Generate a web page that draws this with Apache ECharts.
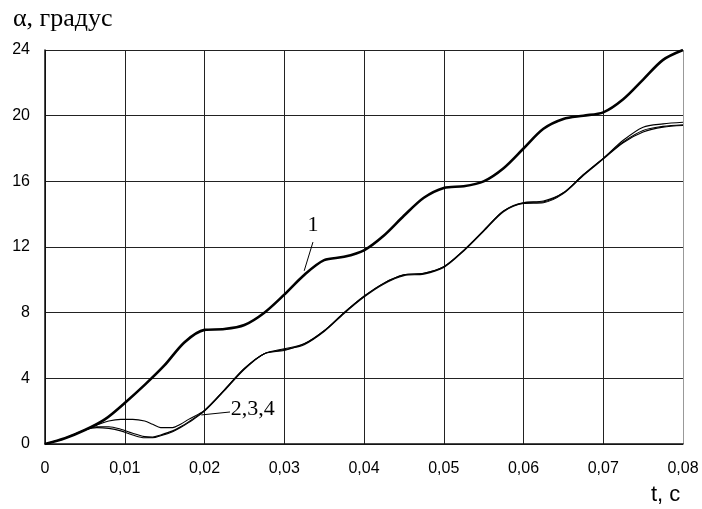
<!DOCTYPE html>
<html>
<head>
<meta charset="utf-8">
<script src="https://cdn.jsdelivr.net/npm/echarts@6/dist/echarts.min.js"></script>
<style>
  html, body { margin: 0; padding: 0; background: #fff; }
  #chart { width: 702px; height: 509px; }
</style>
</head>
<body>
<div id="chart"></div>
<script>
// время, с — кривая 1
const t1 = [0, 0.0025, 0.005, 0.0075, 0.01, 0.0125, 0.015, 0.0175, 0.02, 0.0225, 0.025, 0.0275, 0.03,
  0.0325, 0.035, 0.0375, 0.04, 0.0425, 0.045, 0.0475, 0.05, 0.0525, 0.055, 0.0575, 0.06, 0.0625,
  0.065, 0.0675, 0.07, 0.0725, 0.075, 0.0775, 0.08];
const curve1 = [0, 0.35, 0.85, 1.5, 2.5, 3.6, 4.8, 6.2, 6.95, 7.0, 7.25, 8.0, 9.1, 10.3, 11.2, 11.4,
  11.8, 12.7, 13.9, 15.0, 15.6, 15.7, 16.0, 16.8, 18.0, 19.2, 19.8, 20.0, 20.2, 21.0, 22.2, 23.4, 24.0];

// время, с — кривые 2,3,4
const tLow = [0, 0.0025, 0.005, 0.0065, 0.008, 0.0095, 0.011, 0.0125, 0.0135, 0.0145, 0.016, 0.017,
  0.018, 0.02, 0.0225, 0.025, 0.0275, 0.03, 0.0325, 0.035, 0.0375, 0.04, 0.0425, 0.045, 0.0475,
  0.05, 0.0525, 0.055, 0.0575, 0.06, 0.0625, 0.065, 0.0675, 0.07, 0.0725, 0.075, 0.0775, 0.08];
const curve2 = [0, 0.35, 0.85, 1.15, 1.4, 1.5, 1.5, 1.4, 1.2, 1.0, 1.0, 1.2, 1.5, 2.05, 3.3, 4.6,
  5.5, 5.8, 6.1, 6.9, 8.0, 9.0, 9.8, 10.3, 10.4, 10.8, 11.8, 13.0, 14.2, 14.7, 14.8, 15.3, 16.4,
  17.4, 18.5, 19.3, 19.5, 19.6];
const curve3 = [0, 0.35, 0.85, 1.05, 1.05, 0.9, 0.65, 0.45, 0.42, 0.55, 0.8, 1.05, 1.35, 2.05, 3.3,
  4.6, 5.5, 5.7, 6.1, 6.9, 8.0, 9.0, 9.8, 10.3, 10.4, 10.8, 11.8, 13.0, 14.2, 14.7, 14.75, 15.3,
  16.4, 17.4, 18.4, 19.1, 19.35, 19.45];
const curve4 = [0, 0.35, 0.85, 1.0, 0.95, 0.8, 0.55, 0.38, 0.38, 0.5, 0.75, 1.0, 1.3, 2.0, 3.25,
  4.55, 5.5, 5.75, 6.05, 6.85, 7.95, 8.95, 9.75, 10.25, 10.35, 10.75, 11.75, 12.95, 14.15, 14.65,
  14.7, 15.25, 16.35, 17.35, 18.35, 19.0, 19.3, 19.4];

// подписи кривых: текст, точка текста, линия-выноска
const notes = [
  { text: '1', at: [0.0336, 13.35], from: [0.0336, 12.3], to: [0.0325, 10.55] },
  { text: '2,3,4', at: [0.0233, 2.1], from: [0.0196, 1.77], to: [0.0232, 1.95] }
];

const pairs = (xs, ys) => xs.map((x, i) => [x, ys[i]]);

let chart = echarts.init(document.getElementById('chart'), null, { renderer: 'canvas' });

// последняя вертикальная линия сетки светлее
const gridColors = ['#111', '#222', '#222', '#222', '#222', '#222', '#222', '#222', '#999'];

let option = {
  animation: false,
  backgroundColor: '#fff',
  grid: { left: 45, right: 19, top: 50, bottom: 65 },
  xAxis: {
    type: 'value', min: 0, max: 0.08, interval: 0.01,
    axisLine: { show: true, lineStyle: { color: '#111', width: 1.5 } },
    axisTick: { show: false },
    axisLabel: {
      color: '#000', fontFamily: 'Liberation Sans, Arial', fontSize: 16, margin: 17,
      formatter: v => v === 0 ? '0' : v.toFixed(2).replace('.', ',')
    },
    splitLine: { show: true, lineStyle: { color: gridColors, width: 1 } }
  },
  yAxis: {
    type: 'value', min: 0, max: 24, interval: 4,
    axisLine: { show: true, lineStyle: { color: '#111', width: 1.5 } },
    axisTick: { show: false },
    axisLabel: { color: '#000', fontFamily: 'Liberation Sans, Arial', fontSize: 16, margin: 15 },
    splitLine: { show: true, lineStyle: { color: '#222', width: 1 } }
  },
  graphic: [
    { type: 'text', x: 13, y: 6, style: { text: 'α, градус', font: '26px "Liberation Serif", "Times New Roman", serif', fill: '#000' } },
    { type: 'text', x: 651, y: 484, style: { text: 't, c', font: '22px "Liberation Sans", Arial, sans-serif', fill: '#000' } }
  ],
  series: [
    {
      name: '1', type: 'line', data: pairs(t1, curve1), smooth: 0.3, symbol: 'none',
      lineStyle: { color: '#000', width: 2.6 }, z: 5,
      markLine: {
        silent: true, symbol: 'none', label: { show: false },
        lineStyle: { color: '#000', width: 1, type: 'solid' },
        data: notes.map(n => [{ coord: n.from }, { coord: n.to }])
      },
      markPoint: {
        silent: true, symbol: 'circle', symbolSize: 0,
        label: {
          show: true, color: '#000', fontFamily: 'Liberation Serif, Times New Roman, serif', fontSize: 22,
          formatter: p => p.name, position: 'inside'
        },
        data: notes.map(n => ({ name: n.text, coord: n.at,
          label: { align: n.text === '1' ? 'center' : 'left' } }))
      }
    },
    { name: '2', type: 'line', data: pairs(tLow, curve2), smooth: 0.3, symbol: 'none', lineStyle: { color: '#000', width: 1.1 } },
    { name: '3', type: 'line', data: pairs(tLow, curve3), smooth: 0.3, symbol: 'none', lineStyle: { color: '#000', width: 1.1 } },
    { name: '4', type: 'line', data: pairs(tLow, curve4), smooth: 0.3, symbol: 'none', lineStyle: { color: '#000', width: 1.1 } }
  ]
};

chart.setOption(option, true);
</script>
</body>
</html>
